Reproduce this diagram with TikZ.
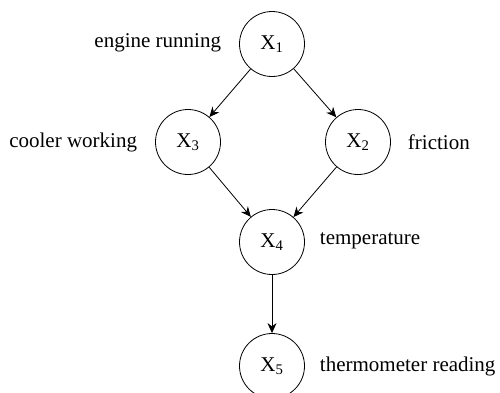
\documentclass[tikz,border=0pt]{standalone}
\usepackage{fontspec}
\setmainfont{Liberation Serif}
\usetikzlibrary{arrows.meta}

\tikzset{
  var/.style={draw,circle,line width=0.8pt,minimum size=65pt,inner sep=0pt,font=\fontsize{21}{24}\selectfont},
  lbl/.style={inner sep=0.75pt,font=\fontsize{21}{24}\selectfont},
  edge/.style={line width=0.8pt,-{Stealth[length=10pt,width=9pt]}}
}

\begin{document}
\begin{tikzpicture}[x=1pt,y=1pt,yscale=-1,xscale=1]
\useasboundingbox (0,0) rectangle (500,392);

% Variables
\node [var] (x1) at (272,44)  {X\textsubscript{1}};
\node [var] (x3) at (188,142) {X\textsubscript{3}};
\node [var] (x2) at (358,142) {X\textsubscript{2}};
\node [var] (x4) at (272,242) {X\textsubscript{4}};
\node [var] (x5) at (272,366) {X\textsubscript{5}};

% Text Node
\node [lbl,anchor=east] (l1) at (222,43)  {engine running};
% Text Node
\node [lbl,anchor=east] (l3) at (138,142) {cooler working};
% Text Node
\node [lbl,anchor=west] (l2) at (407,142) {friction};
% Text Node
\node [lbl,anchor=west] (l4) at (319,241) {temperature};
% Text Node
\node [lbl,anchor=west] (l5) at (319,366) {thermometer reading};

% Arrows
\draw [edge] (x1) -- (x3);
\draw [edge] (x1) -- (x2);
\draw [edge] (x3) -- (x4);
\draw [edge] (x2) -- (x4);
\draw [edge] (x4) -- (x5);
\end{tikzpicture}
\end{document}
